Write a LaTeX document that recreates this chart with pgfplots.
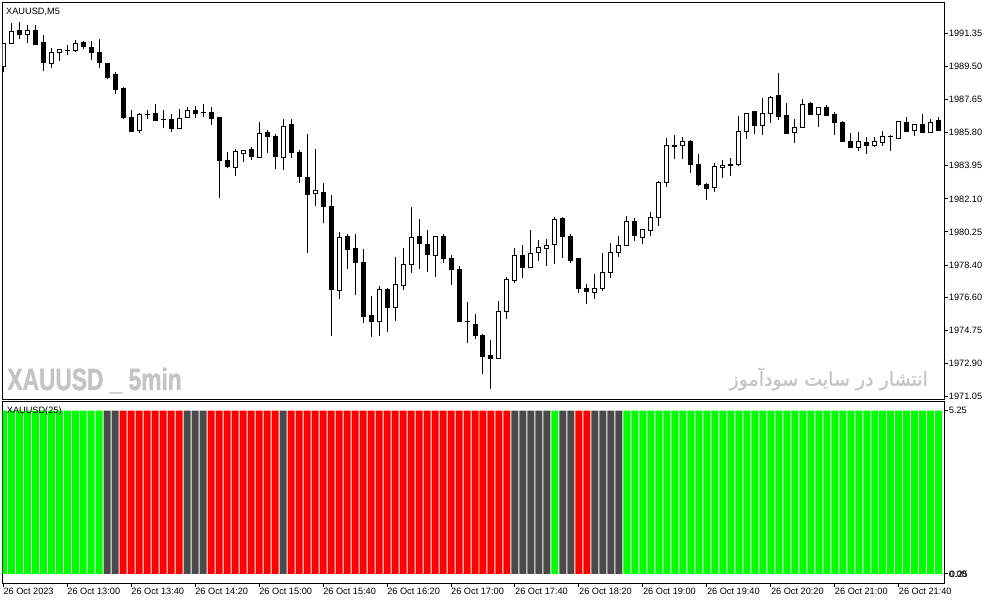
\documentclass[border=0pt]{standalone}
\usepackage{fontspec}
\setmainfont{Liberation Sans}
\newfontfamily\arabicfont[Script=Arabic, FakeBold=1.2]{DejaVu Sans}
\newfontfamily\wmfont[FakeBold=1.5]{Liberation Sans Bold}
\TeXXeTstate=1
\usepackage{pgfplots}
\usepackage{pgfplotstable}
\pgfplotsset{compat=1.18}

\definecolor{mtgreen}{RGB}{0,255,0}
\definecolor{mtred}{RGB}{255,0,0}
\definecolor{mtgray}{RGB}{74,74,74}
\definecolor{wm}{RGB}{196,196,196}

% M5 candles: index, open, high, low, close
\pgfplotstableread{
i o h l c
0 1989.48 1990.79 1989.20 1990.79
1 1990.79 1991.91 1990.79 1991.44
2 1991.48 1991.96 1991.01 1991.29
3 1991.29 1991.81 1990.79 1991.52
4 1991.48 1991.81 1990.73 1990.73
5 1990.82 1991.25 1989.24 1989.71
6 1989.67 1990.51 1989.43 1990.29
7 1990.29 1990.46 1989.80 1990.46
8 1990.38 1990.70 1990.14 1990.40
9 1990.38 1990.98 1990.32 1990.79
10 1990.82 1990.92 1990.47 1990.60
11 1990.58 1990.94 1989.86 1990.29
12 1990.30 1991.03 1989.43 1989.71
13 1989.65 1989.71 1988.78 1988.87
14 1989.02 1989.17 1987.98 1988.22
15 1988.24 1988.33 1986.58 1986.63
16 1986.67 1987.06 1985.85 1985.89
17 1985.91 1986.90 1985.80 1986.79
18 1986.80 1987.06 1986.55 1986.82
19 1986.88 1987.38 1986.47 1986.47
20 1986.55 1987.06 1986.04 1986.53
21 1986.56 1986.82 1985.85 1986.02
22 1986.02 1987.10 1986.02 1986.60
23 1986.66 1987.22 1986.66 1987.06
24 1987.06 1987.29 1986.60 1986.88
25 1986.91 1987.40 1986.69 1986.93
26 1986.94 1987.22 1986.23 1986.60
27 1986.66 1986.69 1982.15 1984.23
28 1984.25 1984.70 1983.81 1983.90
29 1983.86 1984.87 1983.39 1984.73
30 1984.65 1984.83 1984.18 1984.81
31 1984.87 1985.00 1984.27 1984.46
32 1984.42 1986.38 1984.42 1985.76
33 1985.82 1985.95 1984.65 1985.61
34 1985.61 1985.72 1983.75 1984.46
35 1984.42 1986.56 1983.71 1986.13
36 1986.27 1986.56 1984.37 1984.68
37 1984.70 1984.83 1983.00 1983.34
38 1983.30 1985.72 1979.06 1982.35
39 1982.41 1984.89 1981.72 1982.54
40 1982.47 1982.97 1980.73 1981.66
41 1981.70 1982.32 1974.45 1977.05
42 1976.97 1980.25 1976.52 1979.95
43 1980.02 1980.14 1978.16 1979.28
44 1979.34 1980.14 1976.73 1978.53
45 1978.56 1979.30 1975.18 1975.52
46 1975.56 1976.67 1974.40 1975.24
47 1975.24 1977.23 1974.45 1977.01
48 1977.06 1977.10 1974.68 1976.02
49 1976.04 1978.84 1975.29 1977.34
50 1977.25 1979.34 1977.01 1978.46
51 1978.44 1981.63 1977.97 1979.95
52 1980.02 1980.97 1978.20 1979.58
53 1979.56 1980.36 1978.03 1978.98
54 1978.92 1980.02 1977.75 1979.98
55 1979.97 1980.12 1978.53 1978.76
56 1978.78 1978.96 1977.29 1978.16
57 1978.18 1978.35 1975.24 1975.24
58 1975.24 1976.34 1974.06 1975.22
59 1975.09 1975.67 1974.25 1974.45
60 1974.49 1974.55 1972.31 1973.28
61 1973.36 1974.21 1971.46 1973.17
62 1973.17 1976.39 1973.17 1975.78
63 1975.80 1977.72 1975.40 1977.57
64 1977.53 1979.34 1977.38 1978.91
65 1978.91 1979.52 1977.70 1978.25
66 1978.25 1980.36 1978.25 1979.06
67 1979.11 1979.80 1978.65 1979.39
68 1979.34 1979.86 1978.37 1979.50
69 1979.56 1981.07 1978.46 1980.97
70 1981.03 1981.07 1978.81 1979.98
71 1980.02 1980.12 1978.53 1978.65
72 1978.74 1978.78 1976.82 1977.08
73 1977.10 1977.34 1976.21 1976.91
74 1976.88 1977.90 1976.49 1977.10
75 1977.10 1979.06 1976.97 1978.00
76 1978.00 1979.62 1977.66 1979.11
77 1979.11 1980.02 1978.84 1979.50
78 1979.50 1981.14 1979.50 1980.85
79 1980.86 1981.03 1979.76 1980.04
80 1979.95 1980.40 1979.56 1980.40
81 1980.32 1981.35 1980.04 1981.07
82 1981.07 1983.11 1980.60 1983.04
83 1983.00 1985.48 1982.78 1985.09
84 1985.05 1985.67 1984.31 1985.07
85 1985.09 1985.54 1984.33 1985.28
86 1985.29 1985.39 1983.56 1984.03
87 1984.03 1984.61 1982.82 1982.91
88 1982.93 1982.97 1982.04 1982.67
89 1982.72 1984.09 1982.50 1983.90
90 1983.86 1984.27 1983.25 1983.97
91 1983.97 1984.37 1983.38 1984.00
92 1984.01 1986.73 1983.94 1985.87
93 1985.87 1986.88 1985.44 1986.88
94 1986.99 1987.00 1985.72 1986.19
95 1986.19 1987.72 1985.67 1986.88
96 1986.88 1987.85 1986.32 1987.77
97 1987.85 1989.15 1986.51 1986.69
98 1986.73 1987.47 1985.74 1985.74
99 1985.80 1986.55 1985.24 1986.08
100 1986.08 1987.68 1986.08 1987.38
101 1987.40 1987.53 1986.79 1986.79
102 1986.84 1987.22 1986.13 1987.22
103 1987.22 1987.34 1986.75 1986.75
104 1986.79 1986.94 1985.67 1986.36
105 1986.39 1986.45 1985.29 1985.29
106 1985.33 1985.80 1984.98 1984.98
107 1984.98 1985.85 1984.79 1985.33
108 1985.26 1985.54 1984.61 1985.09
109 1985.09 1985.57 1984.98 1985.33
110 1985.26 1985.91 1985.05 1985.61
111 1985.57 1985.67 1984.79 1985.59
112 1985.48 1986.45 1985.48 1986.43
113 1986.38 1986.69 1985.87 1985.87
114 1985.93 1986.23 1985.61 1986.23
115 1986.23 1986.84 1985.80 1985.80
116 1985.82 1986.55 1985.82 1986.39
117 1986.45 1986.69 1985.91 1985.91
}\candles

\pgfplotsset{
  mt/.style={
    scale only axis, anchor=south west,
    xmin=-0.075, xmax=117.75,
    axis line style={line width=1pt, black},
    tick style={line width=1pt, black},
    tick align=outside, major tick length=3.5pt,
    tick label style={font=\fontsize{9.2}{10}\selectfont},
    ytick pos=right, yticklabel pos=right,
    yticklabel style={anchor=west, inner sep=0pt, xshift=0.5pt},
  },
  bar err/.style n args={2}{draw=none, mark=none, forget plot,
    error bars/.cd, y dir=plus, y explicit, error mark=none,
    error bar style={draw=#1, line width=#2}},
}

\begin{document}
\begin{tikzpicture}
\useasboundingbox (0pt,0pt) rectangle (991pt,605pt);

% watermarks
\node[anchor=base west, inner sep=0pt, text=wm, xscale=0.74,
  font=\wmfont\fontsize{30.7}{31}\selectfont] at (7.3pt,215pt) {XAUUSD \_ 5min};
\node[anchor=base east, inner sep=0pt, text=wm,
  font=\arabicfont\fontsize{19}{19}\selectfont] at (928pt,219.3pt) {\beginR انتشار در سایت سودآموز\endR};

% price panel
\begin{axis}[mt, at={(2.7pt,205.5pt)}, width=942pt, height=396.8pt,
  ymin=1970.89, ymax=1993.06,
  xtick=\empty,
  ytick={1991.35,1989.50,1987.65,1985.80,1983.95,1982.10,1980.25,1978.40,1976.60,1974.75,1972.90,1971.05},
  yticklabels={1991.35,1989.50,1987.65,1985.80,1983.95,1982.10,1980.25,1978.40,1976.60,1974.75,1972.90,1971.05},
]
% wicks
\addplot[bar err={black}{1pt}]
  table[x=i, y=l, y error plus expr={\thisrow{h}-\thisrow{l}}] {\candles};
% bodies
\addplot[bar err={black}{5pt}]
  table[x=i, y expr={min(\thisrow{o},\thisrow{c})-0.028},
        y error plus expr={abs(\thisrow{o}-\thisrow{c})+0.056}] {\candles};
% hollow inside of rising candles
\addplot[bar err={white}{3pt}]
  table[x=i, y expr={min(\thisrow{o},\thisrow{c})+0.028},
        y error plus expr={max(\thisrow{c}-\thisrow{o}-0.056,0)}] {\candles};
\end{axis}

% indicator panel
\begin{axis}[mt, at={(2.7pt,21.7pt)}, width=942pt, height=181.3pt,
  ymin=-0.30, ymax=5.53,
  xtick pos=bottom,
  xtick={0,8,...,112},
  xticklabels={26 Oct 2023,26 Oct 13:00,26 Oct 13:40,26 Oct 14:20,26 Oct 15:00,26 Oct 15:40,26 Oct 16:20,26 Oct 17:00,26 Oct 17:40,26 Oct 18:20,26 Oct 19:00,26 Oct 19:40,26 Oct 20:20,26 Oct 21:00,26 Oct 21:40},
  xticklabel style={anchor=north west, inner sep=0pt, yshift=-1.5pt},
  ytick={0,5.25}, yticklabels={0.00,5.25},
  extra y ticks={0}, extra y tick labels={0.25},
  extra y tick style={yticklabel style={xshift=1pt}},
]
\addplot[ybar, bar width=7pt, bar shift=0pt, fill=mtgreen, draw=none] coordinates {
 (0,5.25) (1,5.25) (2,5.25) (3,5.25) (4,5.25) (5,5.25) (6,5.25) (7,5.25) (8,5.25) (9,5.25)
 (10,5.25) (11,5.25) (12,5.25) (69,5.25)
 (78,5.25) (79,5.25) (80,5.25) (81,5.25) (82,5.25) (83,5.25) (84,5.25) (85,5.25) (86,5.25) (87,5.25)
 (88,5.25) (89,5.25) (90,5.25) (91,5.25) (92,5.25) (93,5.25) (94,5.25) (95,5.25) (96,5.25) (97,5.25)
 (98,5.25) (99,5.25) (100,5.25) (101,5.25) (102,5.25) (103,5.25) (104,5.25) (105,5.25) (106,5.25) (107,5.25)
 (108,5.25) (109,5.25) (110,5.25) (111,5.25) (112,5.25) (113,5.25) (114,5.25) (115,5.25) (116,5.25) (117,5.25)
};
\addplot[ybar, bar width=7pt, bar shift=0pt, fill=mtred, draw=none] coordinates {
 (15,5.25) (16,5.25) (17,5.25) (18,5.25) (19,5.25) (20,5.25) (21,5.25) (22,5.25)
 (26,5.25) (27,5.25) (28,5.25) (29,5.25) (30,5.25) (31,5.25) (32,5.25) (33,5.25) (34,5.25)
 (36,5.25) (37,5.25) (38,5.25) (39,5.25) (40,5.25) (41,5.25) (42,5.25) (43,5.25) (44,5.25) (45,5.25)
 (46,5.25) (47,5.25) (48,5.25) (49,5.25) (50,5.25) (51,5.25) (52,5.25) (53,5.25) (54,5.25) (55,5.25)
 (56,5.25) (57,5.25) (58,5.25) (59,5.25) (60,5.25) (61,5.25) (62,5.25) (63,5.25)
 (72,5.25) (73,5.25)
};
\addplot[ybar, bar width=7pt, bar shift=0pt, fill=mtgray, draw=none] coordinates {
 (13,5.25) (14,5.25) (23,5.25) (24,5.25) (25,5.25) (35,5.25)
 (64,5.25) (65,5.25) (66,5.25) (67,5.25) (68,5.25) (70,5.25) (71,5.25)
 (74,5.25) (75,5.25) (76,5.25) (77,5.25)
};
\end{axis}

\node[anchor=base west, inner sep=0pt, font=\fontsize{9.2}{10}\selectfont] at (6pt,590pt) {XAUUSD,M5};
\node[anchor=base west, inner sep=0pt, font=\fontsize{9.2}{10}\selectfont] at (6.7pt,191pt) {XAUUSD(25)};
\end{tikzpicture}
\end{document}
